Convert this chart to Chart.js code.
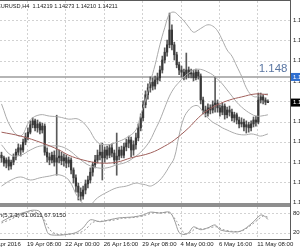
<!DOCTYPE html>
<html><head><meta charset="utf-8">
<script src="https://cdn.jsdelivr.net/npm/chart.js@4.4.0/dist/chart.umd.min.js"></script>
<style>
html,body{margin:0;padding:0;background:#fff;overflow:hidden}
#wrap{position:relative;width:300px;height:250px;background:#fff}
canvas{position:absolute;left:0;top:0}
</style></head><body>
<div id="wrap"><canvas id="main" width="300" height="250"></canvas><canvas id="stoch" width="300" height="250"></canvas></div>
<script>
// ---- data (EURUSD H4), bar index 0..111 ----
const openP  = [1.1300,1.1294,1.1282,1.1289,1.1275,1.1284,1.1296,1.1307,1.1317,1.1312,1.1330,1.1342,1.1353,1.1370,1.1379,1.1363,1.1372,1.1358,1.1367,1.1307,1.1296,1.1289,1.1300,1.1284,1.1294,1.1298,1.1287,1.1294,1.1282,1.1289,1.1266,1.1248,1.1229,1.1215,1.1206,1.1220,1.1234,1.1243,1.1261,1.1278,1.1289,1.1300,1.1307,1.1294,1.1312,1.1300,1.1317,1.1305,1.1289,1.1298,1.1312,1.1300,1.1319,1.1328,1.1335,1.1312,1.1324,1.1340,1.1363,1.1386,1.1416,1.1439,1.1455,1.1468,1.1459,1.1473,1.1478,1.1496,1.1519,1.1537,1.1554,1.1588,1.1554,1.1531,1.1508,1.1496,1.1491,1.1482,1.1496,1.1487,1.1489,1.1478,1.1491,1.1482,1.1427,1.1404,1.1397,1.1409,1.1404,1.1416,1.1420,1.1409,1.1399,1.1413,1.1393,1.1404,1.1399,1.1386,1.1393,1.1381,1.1372,1.1376,1.1365,1.1370,1.1363,1.1372,1.1381,1.1376,1.1427,1.1434,1.1427,1.14219];
const highP  = [1.1307,1.1298,1.1294,1.1296,1.1289,1.1303,1.1314,1.1326,1.1324,1.1337,1.1351,1.1363,1.1379,1.1386,1.1383,1.1381,1.1376,1.1374,1.1372,1.1317,1.1305,1.1307,1.1310,1.1392,1.1312,1.1307,1.1303,1.1300,1.1296,1.1294,1.1271,1.1255,1.1236,1.1225,1.1229,1.1243,1.1252,1.1271,1.1284,1.1300,1.1312,1.1324,1.1328,1.1319,1.1321,1.1324,1.1326,1.1312,1.1351,1.1319,1.1321,1.1328,1.1337,1.1344,1.1342,1.1333,1.1351,1.1372,1.1395,1.1425,1.1448,1.1464,1.1480,1.1478,1.1482,1.1489,1.1505,1.1528,1.1547,1.1565,1.1627,1.1600,1.1560,1.1537,1.1514,1.1505,1.1498,1.1535,1.1503,1.1498,1.1496,1.1498,1.1496,1.1487,1.1434,1.1413,1.1418,1.1416,1.1425,1.1480,1.1427,1.1416,1.1420,1.1418,1.1411,1.1413,1.1406,1.1399,1.1397,1.1388,1.1386,1.1383,1.1379,1.1376,1.1379,1.1388,1.1390,1.1443,1.1443,1.1439,1.1432,1.14273];
const lowP   = [1.1284,1.1275,1.1271,1.1266,1.1268,1.1278,1.1289,1.1300,1.1298,1.1307,1.1324,1.1335,1.1349,1.1363,1.1356,1.1353,1.1349,1.1351,1.1300,1.1284,1.1278,1.1282,1.1275,1.1254,1.1282,1.1278,1.1275,1.1271,1.1273,1.1257,1.1236,1.1215,1.1197,1.1195,1.1199,1.1211,1.1225,1.1236,1.1252,1.1271,1.1282,1.1289,1.1243,1.1284,1.1291,1.1294,1.1296,1.1280,1.1254,1.1289,1.1294,1.1294,1.1310,1.1317,1.1296,1.1300,1.1314,1.1333,1.1356,1.1379,1.1409,1.1429,1.1445,1.1450,1.1452,1.1464,1.1471,1.1489,1.1512,1.1528,1.1547,1.1542,1.1519,1.1501,1.1485,1.1480,1.1473,1.1475,1.1478,1.1478,1.1471,1.1473,1.1475,1.1418,1.1395,1.1388,1.1390,1.1395,1.1397,1.1399,1.1399,1.1390,1.1393,1.1383,1.1386,1.1390,1.1379,1.1376,1.1372,1.1363,1.1365,1.1356,1.1351,1.1353,1.1356,1.1365,1.1367,1.1372,1.1420,1.1418,1.1416,1.14210];
const closeP = [1.1294,1.1282,1.1289,1.1275,1.1284,1.1296,1.1307,1.1317,1.1312,1.1330,1.1342,1.1353,1.1370,1.1379,1.1363,1.1372,1.1358,1.1367,1.1307,1.1296,1.1289,1.1300,1.1284,1.1294,1.1298,1.1287,1.1294,1.1282,1.1289,1.1266,1.1248,1.1229,1.1215,1.1206,1.1220,1.1234,1.1243,1.1261,1.1278,1.1289,1.1300,1.1307,1.1294,1.1312,1.1300,1.1317,1.1305,1.1289,1.1298,1.1312,1.1300,1.1319,1.1328,1.1335,1.1312,1.1324,1.1340,1.1363,1.1386,1.1416,1.1439,1.1455,1.1468,1.1459,1.1473,1.1478,1.1496,1.1519,1.1537,1.1554,1.1588,1.1554,1.1531,1.1508,1.1496,1.1491,1.1482,1.1496,1.1487,1.1489,1.1478,1.1491,1.1482,1.1427,1.1404,1.1397,1.1409,1.1404,1.1416,1.1420,1.1409,1.1399,1.1413,1.1393,1.1404,1.1399,1.1386,1.1393,1.1381,1.1372,1.1376,1.1365,1.1370,1.1363,1.1372,1.1381,1.1376,1.1427,1.1434,1.1427,1.1422,1.14211];

// Bollinger bands (read at these bar indices)
const bbIdx    = [0,4,8,12,16,20,24,28,32,36,40,44,48,52,56,58,60,62,64,66,68,70,72,74,76,78,80,82,84,86,88,90,92,94,96,98,100,102,104,106,108,111];
const bbUpper  = [1.1418,1.1363,1.1344,1.1381,1.1393,1.1390,1.1388,1.1383,1.1383,1.1363,1.1330,1.1324,1.1330,1.1340,1.1358,1.1393,1.1427,1.1468,1.1508,1.1554,1.1593,1.1625,1.1629,1.1620,1.1609,1.1595,1.1583,1.1588,1.1595,1.1600,1.1597,1.1586,1.1565,1.1542,1.1528,1.1505,1.1482,1.1455,1.1439,1.1434,1.1439,1.1441];
const bbMiddle = [1.1324,1.1300,1.1300,1.1312,1.1321,1.1321,1.1321,1.1312,1.1294,1.1278,1.1271,1.1271,1.1278,1.1284,1.1298,1.1307,1.1319,1.1335,1.1358,1.1381,1.1409,1.1436,1.1455,1.1468,1.1480,1.1489,1.1496,1.1498,1.1496,1.1491,1.1485,1.1475,1.1464,1.1450,1.1436,1.1422,1.1411,1.1402,1.1395,1.1390,1.1390,1.1393];
const bbLower  = [1.1229,1.1243,1.1250,1.1243,1.1248,1.1252,1.1255,1.1243,1.1202,1.1183,1.1202,1.1215,1.1225,1.1229,1.1236,1.1234,1.1232,1.1229,1.1234,1.1243,1.1257,1.1275,1.1294,1.1346,1.1386,1.1404,1.1413,1.1413,1.1399,1.1386,1.1376,1.1370,1.1363,1.1358,1.1353,1.1349,1.1347,1.1347,1.1349,1.1347,1.1344,1.1349];
// moving average (brown)
const maIdx = [0,8,17,24,28,34,41,48,54,62,68,72,78,82,86,90,95,100,106,111];
const maVal = [1.1353,1.1344,1.1328,1.1312,1.1300,1.1289,1.1282,1.1284,1.1294,1.1305,1.1321,1.1335,1.1363,1.1386,1.1404,1.1416,1.1427,1.1434,1.1441,1.1439];
// Stochastic (5,3,3)
const stIdx  = [0,3,6,10,13,16,19,20,24,27,31,34,37,41,45,49,55,59,62,66,70,72,74,76,78,80,83,86,89,91,95,99,102,105,108,110,111];
const stMain = [54,66,75,84,90,85,23,14,12,14,20,35,60,54,60,66,69,75,84,81,84,60,20,14,20,38,29,35,44,29,23,23,35,54,75,69,61];
const sgIdx  = [0,4,8,13,17,20,23,28,32,35,38,42,46,50,56,60,63,67,70,73,75,77,79,81,84,87,90,92,96,100,103,106,109,111];
const stSig  = [50,62,76,86,70,30,15,15,18,30,52,56,58,64,68,74,82,82,82,55,28,16,22,33,31,36,38,30,24,25,38,55,72,68];
// axes
const priceTicks = [1.16110,1.15643,1.15176,1.14709,1.14242,1.13775,1.13309,1.12842,1.12375,1.11908];
const timeTicks  = [-5.6,10.6,26.6,42.6,58.6,74.6,90.6,106.6];
const timeLabels = ["15 Apr 2016","19 Apr 08:00","22 Apr 00:00","26 Apr 16:00","29 Apr 08:00","4 May 00:00","6 May 16:00","11 May 08:00"];
const levelLine = 1.148;
const stochLevels = [80,20];
const titleText = "EURUSD,H4  1.14219 1.14273 1.14210 1.14211";
const stochText = "Stoch(5,3,3) 61.0611 67.9150";

const FONT = '"Liberation Sans", Arial, sans-serif';
const pts = (idx, vals) => idx.map((x,k)=>({x, y: vals[k]}));
const xScale = {type:'linear', min:-0.625, max:120.2, display:false, offset:false};

function dashLine(ctx,x1,y1,x2,y2){ctx.beginPath();ctx.moveTo(x1,y1);ctx.lineTo(x2,y2);ctx.stroke();}

const mainPlugin = {
  id:'mainDeco',
  beforeDatasetsDraw(chart){
    const {ctx, chartArea:a, scales:{x,y}} = chart;
    ctx.save();
    ctx.strokeStyle='#d2d2d2'; ctx.lineWidth=1; ctx.setLineDash([2,2]);
    priceTicks.forEach(v=>{const py=Math.round(y.getPixelForValue(v))+0.5; dashLine(ctx,a.left,py,a.right,py);});
    timeTicks.forEach(v=>{const px=Math.round(x.getPixelForValue(v))+0.5; dashLine(ctx,px,a.top,px,a.bottom);});
    ctx.setLineDash([]);
    const ly=y.getPixelForValue(levelLine);
    ctx.strokeStyle='#9c9c9c'; ctx.lineWidth=1.6; dashLine(ctx,a.left,ly,a.right,ly);
    ctx.restore();
  },
  afterDraw(chart){
    const {ctx, chartArea:a, scales:{x,y}} = chart;
    ctx.save();
    ctx.strokeStyle='#5a5a5a'; ctx.lineWidth=1;
    dashLine(ctx,0,0.5,a.right+0.5,0.5);
    dashLine(ctx,a.right+0.5,0,a.right+0.5,240);
    ctx.fillStyle='#8e8e8e'; ctx.fillRect(0,203,a.right,4);
    ctx.fillStyle='#222'; ctx.font='5.6px '+FONT; ctx.textBaseline='middle'; ctx.textAlign='left';
    ctx.fillText(titleText,-3,6.5);
    ctx.font='6px '+FONT;
    priceTicks.forEach(v=>{ctx.fillText(v.toFixed(5),293,y.getPixelForValue(v));});
    const ly=y.getPixelForValue(levelLine);
    ctx.fillStyle='#5a76a2'; ctx.font='11.5px '+FONT; ctx.textAlign='right'; ctx.textBaseline='alphabetic';
    ctx.fillText('1.148',287.5,71.5);
    ctx.fillStyle='#2f6fd0'; ctx.fillRect(291,ly-4,9,8);
    ctx.fillStyle='#fff'; ctx.font='6px '+FONT; ctx.textAlign='left'; ctx.textBaseline='middle';
    ctx.fillText(levelLine.toFixed(5),293,ly);
    const cy=y.getPixelForValue(closeP[closeP.length-1]);
    ctx.fillStyle='#000'; ctx.fillRect(291,cy-4,9,8);
    ctx.fillStyle='#fff'; ctx.fillText(closeP[closeP.length-1].toFixed(5),293,cy);
    ctx.restore();
  }
};

new Chart(document.getElementById('main'), {
  type:'bar',
  data:{datasets:[
    {type:'line', data:pts(maIdx,maVal), borderColor:'#a0605c', borderWidth:1, pointRadius:0, tension:0.4},
    {type:'line', data:pts(bbIdx,bbUpper), borderColor:'#ababab', borderWidth:1, pointRadius:0, tension:0.4},
    {type:'line', data:pts(bbIdx,bbMiddle), borderColor:'#ababab', borderWidth:1, pointRadius:0, tension:0.4},
    {type:'line', data:pts(bbIdx,bbLower), borderColor:'#ababab', borderWidth:1, pointRadius:0, tension:0.4},
    {type:'bar', data:openP.map((o,i)=>({x:i, y:[o, closeP[i]]})), backgroundColor:'#383838', barThickness:1.5, grouped:false, minBarLength:1, borderWidth:0},
    {type:'bar', data:highP.map((h,i)=>({x:i, y:[lowP[i], h]})), backgroundColor:'#5a5a5a', barThickness:1, grouped:false, borderWidth:0}
  ]},
  options:{
    responsive:false, animation:false, events:[],
    layout:{padding:{left:0,right:10,top:1,bottom:45}},
    plugins:{legend:{display:false}, tooltip:{enabled:false}},
    scales:{x:xScale, y:{type:'linear', min:1.11855, max:1.16547, display:false}}
  },
  plugins:[mainPlugin]
});

const stochPlugin = {
  id:'stochDeco',
  beforeDatasetsDraw(chart){
    const {ctx, chartArea:a, scales:{x,y}} = chart;
    ctx.save();
    ctx.strokeStyle='#d2d2d2'; ctx.lineWidth=1; ctx.setLineDash([2,2]);
    stochLevels.forEach(v=>{const py=Math.round(y.getPixelForValue(v))+0.5; dashLine(ctx,a.left,py,a.right,py);});
    timeTicks.forEach(v=>{const px=Math.round(x.getPixelForValue(v))+0.5; dashLine(ctx,px,a.top,px,a.bottom);});
    ctx.restore();
  },
  afterDraw(chart){
    const {ctx, chartArea:a, scales:{x,y}} = chart;
    ctx.save();
    ctx.strokeStyle='#5a5a5a'; ctx.lineWidth=1;
    dashLine(ctx,0,a.bottom+0.5,a.right+0.5,a.bottom+0.5);
    ctx.fillStyle='#222'; ctx.font='6px '+FONT; ctx.textBaseline='middle'; ctx.textAlign='left';
    ctx.fillText(stochText,-13,215);
    stochLevels.forEach(v=>ctx.fillText(String(v),293,y.getPixelForValue(v)));
    timeTicks.forEach((v,k)=>{ctx.fillText(timeLabels[k],x.getPixelForValue(v),244.5);});
    ctx.restore();
  }
};

new Chart(document.getElementById('stoch'), {
  type:'line',
  data:{datasets:[
    {data:pts(stIdx,stMain), borderColor:'#9a9a9a', borderWidth:1, pointRadius:0, tension:0.3},
    {data:pts(sgIdx,stSig), borderColor:'#9a9a9a', borderWidth:1, borderDash:[2,2], pointRadius:0, tension:0.3}
  ]},
  options:{
    responsive:false, animation:false, events:[],
    layout:{padding:{left:0,right:10,top:207,bottom:11}},
    plugins:{legend:{display:false}, tooltip:{enabled:false}},
    scales:{x:xScale, y:{type:'linear', min:0, max:100, display:false}}
  },
  plugins:[stochPlugin]
});
</script></body></html>
